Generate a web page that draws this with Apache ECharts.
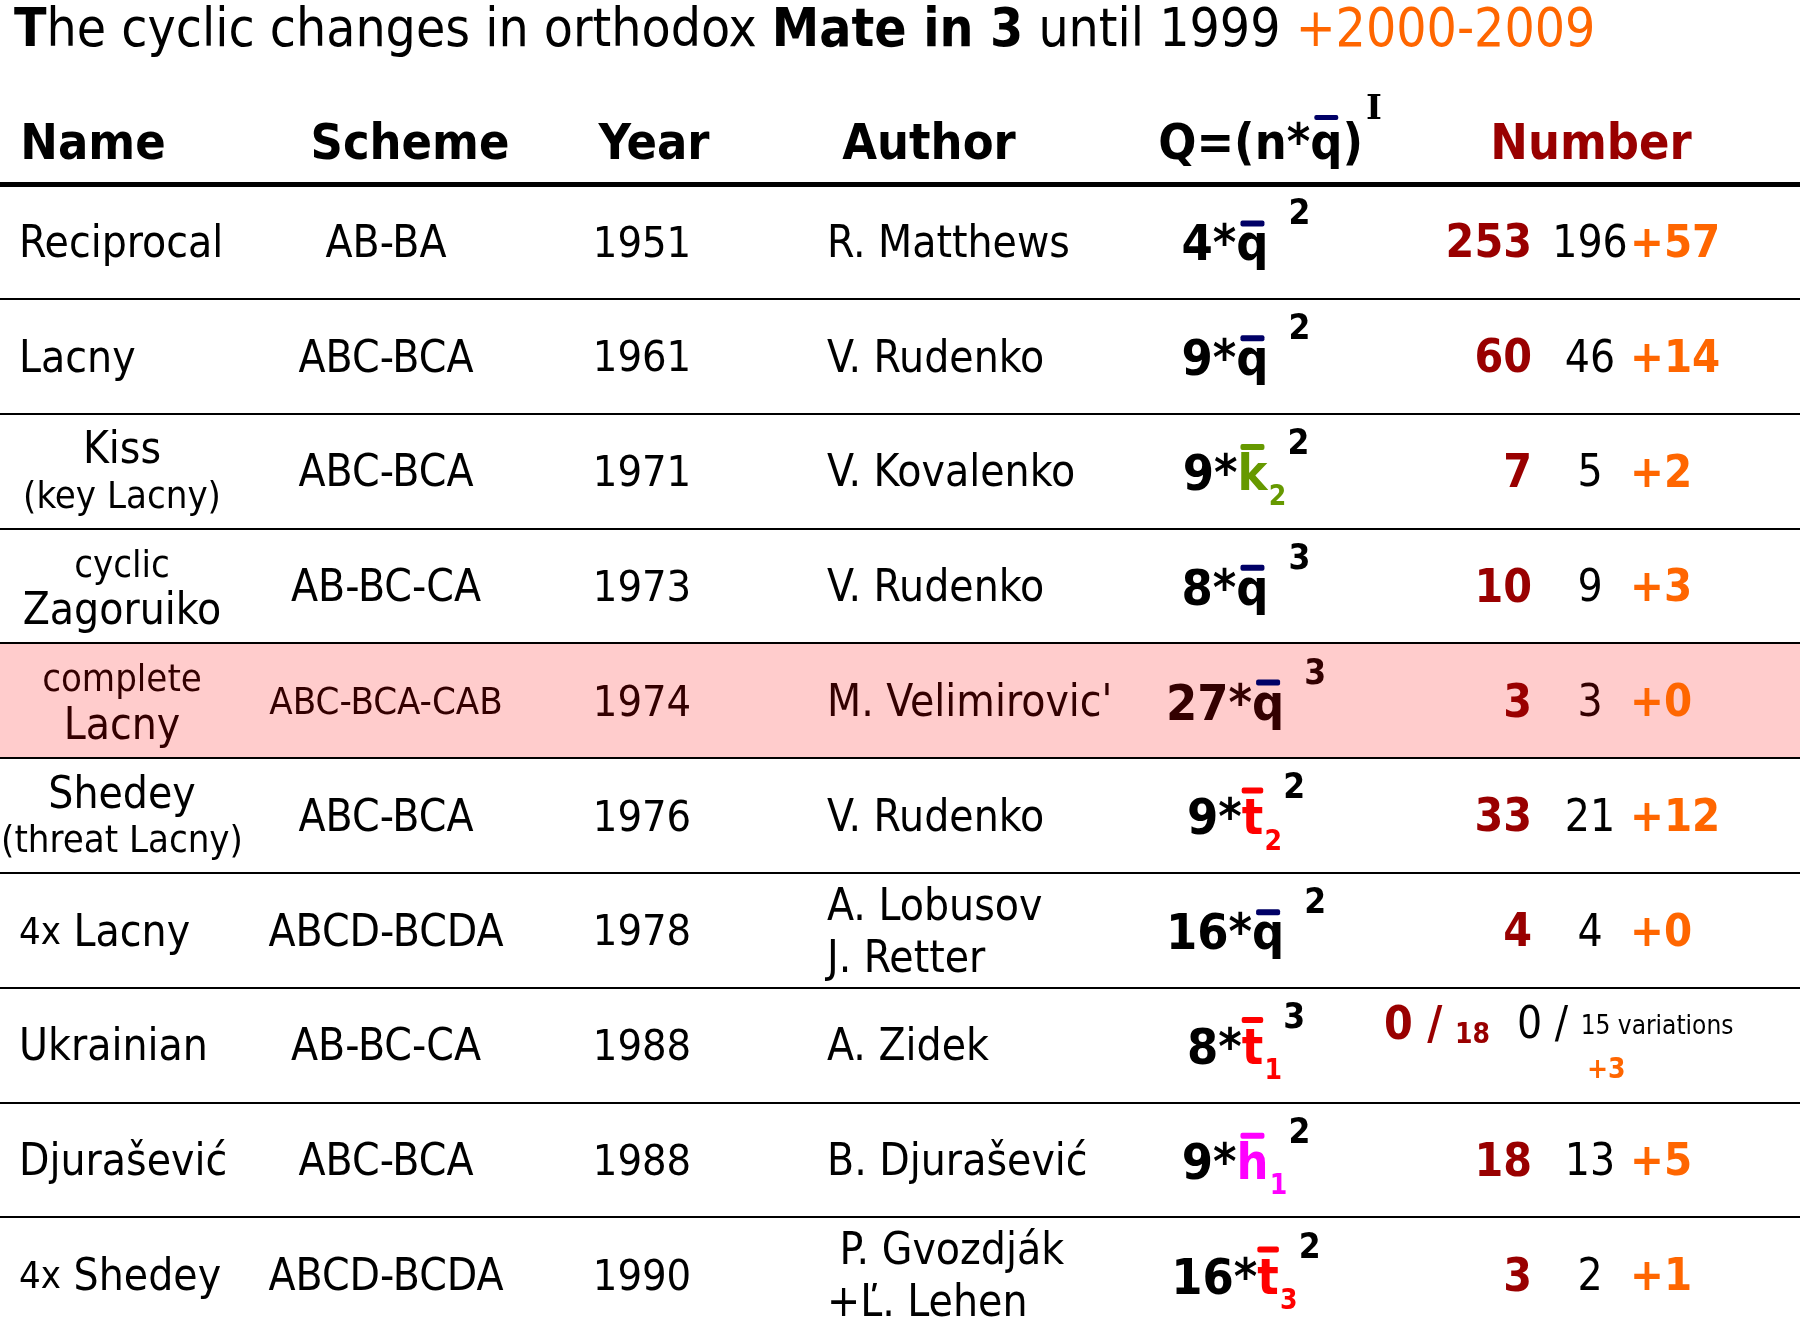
<!DOCTYPE html>
<html>
<head>
<meta charset="utf-8">
<script src="https://cdn.jsdelivr.net/npm/echarts@6/dist/echarts.min.js"></script>
<style>
html,body{margin:0;padding:0;background:#ffffff;}
#chart{width:1800px;height:1340px;}
</style>
</head>
<body>
<div id="chart"></div>
<script>
// ---------------- data ----------------
const titleText = '{b|T}{t|he cyclic changes in orthodox }{b|Mate in 3}{t| until 1999 }{o|+2000-2009}';
const headers = ['Name', 'Scheme', 'Year', 'Author', 'Q=(n*q\u0304)', 'Number'];
const headerExponent = 'I';
const names = ['Reciprocal', 'Lacny', 'Kiss\n(key Lacny)', 'cyclic\nZagoruiko', 'complete\nLacny',
  'Shedey\n(threat Lacny)', '4x Lacny', 'Ukrainian', 'Djurašević', '4x Shedey'];
const schemes = ['AB-BA', 'ABC-BCA', 'ABC-BCA', 'AB-BC-CA', 'ABC-BCA-CAB', 'ABC-BCA', 'ABCD-BCDA',
  'AB-BC-CA', 'ABC-BCA', 'ABCD-BCDA'];
const years = [1951, 1961, 1971, 1973, 1974, 1976, 1978, 1988, 1988, 1990];
const authors = ['R. Matthews', 'V. Rudenko', 'V. Kovalenko', 'V. Rudenko', "M. Velimirovic'", 'V. Rudenko',
  'A. Lobusov\nJ. Retter', 'A. Zidek', 'B. Djurašević', ' P. Gvozdják\n+Ľ. Lehen'];
const coefficients = [4, 9, 9, 8, 27, 9, 16, 8, 9, 16];
const letters = ['q', 'q', 'k', 'q', 'q', 't', 'q', 't', 'h', 't'];
const subscripts = ['', '', '2', '', '', '2', '', '1', '1', '3'];
const exponents = [2, 2, 2, 3, 3, 2, 2, 3, 2, 2];
const totals = [253, 60, 7, 10, 3, 33, 4, 0, 18, 3];
const totalVariations = [null, null, null, null, null, null, null, 18, null, null];
const until1999 = [196, 46, 5, 9, 3, 21, 4, 0, 13, 2];
const until1999Variations = [null, null, null, null, null, null, null, 15, null, null];
const added2000s = [57, 14, 2, 3, 0, 12, 0, 3, 5, 1];
const highlightedRow = 4;

// ---------------- layout & style ----------------
const X_MAX = 1800;
const colX = {
  nameLeft: 19, nameCenter: 122, scheme: 386, year: 642, author: 827, formula: 1246,
  total: 1532, until: 1590, added: 1630, totalSplit: 1490, untilSplit: 1517
};
const headerX = [93, 410, 654, 929, 1270, 1591];
const F = "'DejaVu Sans Condensed','Liberation Sans',sans-serif";
const F_SERIF = "'DejaVu Serif','Liberation Serif',serif";
const C = {
  text: '#000000', dark: '#330000', red: '#990000', orange: '#ff6600', navy: '#000066',
  pink: '#ffcccc', green: '#669900', tRed: '#ff0000', magenta: '#ff00ff', none: 'rgba(0,0,0,0)'
};
const letterColor = { q: C.navy, k: C.green, t: C.tRed, h: C.magenta };
const barTop = { q: 27, k: 33, t: 34, h: 33 };
const HEADER_BAR_TOP = 31;
const BAR_W = 24, BAR_H = 6;
const HEADER_MARGIN = -5, HEADER_LINE = 86;

const rows = names.map((_, i) => i);
const isHl = i => i === highlightedRow;
const dk = i => (isHl(i) ? 'D' : '');

// text measuring (same font string as the renderer) for the over-bars
const measureCtx = document.createElement('canvas').getContext('2d');
function textWidth(text, font) { measureCtx.font = font; return measureCtx.measureText(text).width; }

// ---------------- formatters ----------------
function nameText(i) {
  const d = dk(i);
  return names[i].split('\n').map(line => {
    if (line.indexOf('4x ') === 0) return '{ns' + d + '|4x} {n' + d + '|' + line.slice(3) + '}';
    const first = line.charAt(0);
    const small = first === '(' || /[a-z]/.test(first);
    return '{' + (small ? 'ns' : 'n') + d + '|' + line + '}';
  }).join('\n');
}
function plainText(arr, tok) {
  return i => String(arr[i]).split('\n').map(l => '{' + tok(i) + dk(i) + '|' + l + '}').join('\n');
}
function formulaText(i, overlay) {
  const d = dk(i);
  const L = letters[i];
  const isQ = L === 'q';
  const coef = '{' + (overlay ? 'x' : 'c' + d) + '|' + coefficients[i] + '*}';
  let letter;
  if (overlay) letter = '{sp' + L + '| }{bar' + L + '| }{sp' + L + '| }';
  else letter = isQ ? '{c' + d + '|q}' : '{l' + L + '|' + L + '}';
  const sub = subscripts[i]
    ? '{' + (overlay ? 'xs' : 's' + L) + '|' + subscripts[i] + '}'
    : '{' + (overlay ? 'xs' : 's0') + '| }';
  const sup = '{' + (overlay ? 'xe' : 'e' + d) + '|' + exponents[i] + '}';
  return coef + letter + sub + sup;
}
function totalText(i) {
  if (totalVariations[i] != null) return '{r|' + totals[i] + ' /} {rs|' + totalVariations[i] + '}\n{gap| }';
  return '{r|' + totals[i] + '}';
}
function untilText(i) {
  const d = dk(i);
  if (until1999Variations[i] != null)
    return '{k' + d + '|' + until1999[i] + ' /} {ks|' + until1999Variations[i] + ' variations}\n{os|+' + added2000s[i] + '}';
  return '{k' + d + '|' + until1999[i] + '}';
}
function addedText(i) {
  if (until1999Variations[i] != null) return '';
  return '{o|+' + added2000s[i] + '}';
}
function headerText(i, overlay) {
  const h = headers[i];
  const mi = h.indexOf('\u0304');
  if (mi > 0) {
    const pre = h.slice(0, mi - 1), letter = h.charAt(mi - 1), post = h.slice(mi + 1);
    if (overlay) return '{hx|' + pre + '}{hsp| }{hb| }{hsp| }{hx|' + post + '}{hxe|' + headerExponent + '}';
    return '{h|' + pre + '}{h|' + letter + '}{h|' + post + '}{he|' + headerExponent + '}';
  }
  if (overlay) return '{hx|' + h + '}';
  return '{' + (i === headers.length - 1 ? 'hr' : 'h') + '|' + h + '}';
}

// ---------------- rich styles ----------------
function st(size, color, extra) {
  return Object.assign({ fontFamily: F, fontSize: size, color: color }, extra || {});
}
const bold = { fontWeight: 'bold' };
const nameRich = {
  n: st(44, C.text, { lineHeight: 46 }), nD: st(44, C.dark, { lineHeight: 46 }),
  ns: st(38, C.text, { lineHeight: 46 }), nsD: st(38, C.dark, { lineHeight: 46 })
};
const schemeRich = {
  s: st(44, C.text), sD: st(44, C.dark), ss: st(38, C.text), ssD: st(38, C.dark)
};
const yearRich = { y: st(43, C.text), yD: st(43, C.dark) };
const authorRich = { a: st(44, C.text, { lineHeight: 52 }), aD: st(44, C.dark, { lineHeight: 52 }) };

const F_SIZE = 50;
const fBase = { fontFamily: F, fontWeight: 'bold', fontSize: F_SIZE, lineHeight: 80, verticalAlign: 'middle' };
const fSub = { fontFamily: F, fontWeight: 'bold', fontSize: 28, height: 38, width: 20, verticalAlign: 'bottom' };
const fSup = { fontFamily: F, fontWeight: 'bold', fontSize: 35, height: 16, verticalAlign: 'top' };
const formulaRich = {
  c: Object.assign({}, fBase, { color: C.text }), cD: Object.assign({}, fBase, { color: C.dark }),
  lk: Object.assign({}, fBase, { color: C.green }), lt: Object.assign({}, fBase, { color: C.tRed }),
  lh: Object.assign({}, fBase, { color: C.magenta }),
  s0: Object.assign({}, fSub, { color: C.text }), sk: Object.assign({}, fSub, { color: C.green }),
  st: Object.assign({}, fSub, { color: C.tRed }), sh: Object.assign({}, fSub, { color: C.magenta }),
  e: Object.assign({}, fSup, { color: C.text }), eD: Object.assign({}, fSup, { color: C.dark })
};
// overlay: same horizontal layout, invisible text, coloured bar over the letter
const overlayRich = {
  x: Object.assign({}, fBase, { color: C.none, lineHeight: 10 }),
  xs: Object.assign({}, fSub, { color: C.none, lineHeight: 10, height: 10 }),
  xe: Object.assign({}, fSup, { color: C.none, lineHeight: 10, height: 10 })
};
Object.keys(letterColor).forEach(L => {
  const w = textWidth(L, 'bold ' + F_SIZE + 'px ' + F);
  const bw = Math.min(BAR_W, w);
  overlayRich['sp' + L] = { fontFamily: F, fontSize: 10, width: (w - bw) / 2, lineHeight: 10, color: C.none };
  overlayRich['bar' + L] = {
    fontFamily: F, fontSize: 4, width: bw, height: BAR_H, lineHeight: 2 * barTop[L],
    verticalAlign: 'top', backgroundColor: letterColor[L], borderRadius: 2, color: C.none
  };
});

const numberRich = {
  r: st(46, C.red, Object.assign({ lineHeight: 40 }, bold)),
  rs: st(28, C.red, Object.assign({ height: 26, verticalAlign: 'bottom', lineHeight: 40 }, bold)),
  gap: st(28, C.none, { lineHeight: 44 }),
  k: st(44, C.text, { lineHeight: 40 }), kD: st(44, C.dark, { lineHeight: 40 }),
  ks: st(26, C.text, { lineHeight: 40 }),
  os: st(28, C.orange, Object.assign({ lineHeight: 44, padding: [0, 0, 0, 70] }, bold)),
  o: st(45, C.orange, Object.assign({ lineHeight: 40 }, bold))
};
const H_SIZE = 50;
const hBase = { fontFamily: F, fontWeight: 'bold', fontSize: H_SIZE, lineHeight: HEADER_LINE, verticalAlign: 'middle' };
const hSup = { fontFamily: F_SERIF, fontWeight: 'bold', fontSize: 34, height: 14, verticalAlign: 'top', padding: [0, 0, 0, 3] };
const headerRich = {
  h: Object.assign({}, hBase, { color: C.text }), hr: Object.assign({}, hBase, { color: C.red }),
  he: Object.assign({}, hSup, { color: C.text })
};
const hqW = textWidth('q', 'bold ' + H_SIZE + 'px ' + F);
const hbW = Math.min(BAR_W, hqW);
const headerOverlayRich = {
  hx: Object.assign({}, hBase, { color: C.none, lineHeight: 10 }),
  hxe: Object.assign({}, hSup, { color: C.none, lineHeight: 10, height: 10 }),
  hsp: { fontFamily: F, fontSize: 10, width: (hqW - hbW) / 2, lineHeight: 10, color: C.none },
  hb: {
    fontFamily: F, fontSize: 4, width: hbW, height: BAR_H - 1, lineHeight: 2 * HEADER_BAR_TOP,
    verticalAlign: 'top', backgroundColor: C.navy, borderRadius: 2, color: C.none
  }
};

// ---------------- series helpers ----------------
function textSeries(name, z, points, formatter, rich, dy) {
  return {
    type: 'scatter', name: name, z: z, silent: true, symbolSize: 1, xAxisIndex: 1,
    itemStyle: { color: C.none, opacity: 1 },
    data: points,
    label: {
      show: true, position: 'inside', fontFamily: F, fontSize: 44, color: C.text, opacity: 1,
      verticalAlign: 'middle', offset: [0, dy],
      formatter: p => formatter(p.dataIndex), rich: rich
    }
  };
}
function pt(x, i, align) {
  return { value: [x, i], label: { align: align } };
}

const nameData = rows.map(i => names[i].indexOf('\n') >= 0 ? pt(colX.nameCenter, i, 'center') : pt(colX.nameLeft, i, 'left'));
const schemeData = rows.map(i => pt(colX.scheme, i, 'center'));
const yearData = rows.map(i => pt(colX.year, i, 'center'));
const authorData = rows.map(i => pt(colX.author, i, 'left'));
const formulaData = rows.map(i => pt(colX.formula, i, 'center'));
const totalData = rows.map(i => totalVariations[i] != null ? pt(colX.totalSplit, i, 'right') : pt(colX.total, i, 'right'));
const untilData = rows.map(i => until1999Variations[i] != null ? pt(colX.untilSplit, i, 'left') : pt(colX.until, i, 'center'));
const addedData = rows.map(i => pt(colX.added, i, 'left'));

// header labels on the top axis; the overlay axis carries only the bar over q (centred on the same line)
const headerAxis = (overlay) => ({
  type: 'value', position: 'top', min: 0, max: X_MAX, z: overlay ? 1 : 2,
  axisLine: overlay ? { show: false } : { show: true, onZero: false, lineStyle: { color: '#000', width: 5 } },
  axisTick: { show: false }, splitLine: { show: false },
  axisLabel: {
    show: true, customValues: headerX, align: 'center',
    margin: overlay ? HEADER_MARGIN + HEADER_LINE / 2 : HEADER_MARGIN,
    verticalAlign: overlay ? 'middle' : 'bottom',
    lineHeight: overlay ? 10 : HEADER_LINE,
    formatter: v => headerText(headerX.indexOf(v), overlay),
    rich: overlay ? headerOverlayRich : headerRich
  }
});

const DY = 4;
const option = {
  animation: false,
  backgroundColor: '#ffffff',
  title: {
    text: titleText, left: 14, top: 2, padding: 0,
    textStyle: {
      fontFamily: F, fontSize: 53, fontWeight: 'normal', lineHeight: 60,
      rich: {
        t: { fontFamily: F, fontSize: 53, fontWeight: 'normal', lineHeight: 60, color: C.text },
        b: { fontFamily: F, fontSize: 53, fontWeight: 'bold', lineHeight: 60, color: C.text },
        o: { fontFamily: F, fontSize: 53, fontWeight: 'normal', lineHeight: 60, color: C.orange }
      }
    }
  },
  grid: { left: 0, right: 0, top: 184, bottom: 8, containLabel: false },
  xAxis: [headerAxis(true), headerAxis(false)],
  yAxis: {
    type: 'category', inverse: true, data: names, z: 5,
    axisLine: { show: false }, axisTick: { show: false, interval: 0 }, axisLabel: { show: false, interval: 0 },
    splitLine: { show: true, interval: 0, showMinLine: false, showMaxLine: false, lineStyle: { color: '#000', width: 2 } }
  },
  series: [
    {
      type: 'bar', name: 'highlight', silent: true, z: 1, xAxisIndex: 1, barWidth: '100%',
      itemStyle: { color: C.pink },
      data: rows.map(i => (isHl(i) ? X_MAX : '-'))
    },
    textSeries('names', 3, nameData, nameText, nameRich, DY),
    textSeries('schemes', 3, schemeData, plainText(schemes, i => (schemes[i].length > 9 ? 'ss' : 's')), schemeRich, DY),
    textSeries('years', 3, yearData, plainText(years, () => 'y'), yearRich, DY),
    textSeries('authors', 3, authorData, plainText(authors, () => 'a'), authorRich, DY),
    textSeries('formulaBars', 3, formulaData, i => formulaText(i, true), overlayRich, 6),
    textSeries('formulas', 4, formulaData, i => formulaText(i, false), formulaRich, 6),
    textSeries('totals', 3, totalData, totalText, numberRich, DY),
    textSeries('until1999', 3, untilData, untilText, numberRich, DY),
    textSeries('added2000s', 3, addedData, addedText, numberRich, DY)
  ]
};

const chart = echarts.init(document.getElementById('chart'), null, { renderer: 'canvas' });
chart.setOption(option);
</script>
</body>
</html>
